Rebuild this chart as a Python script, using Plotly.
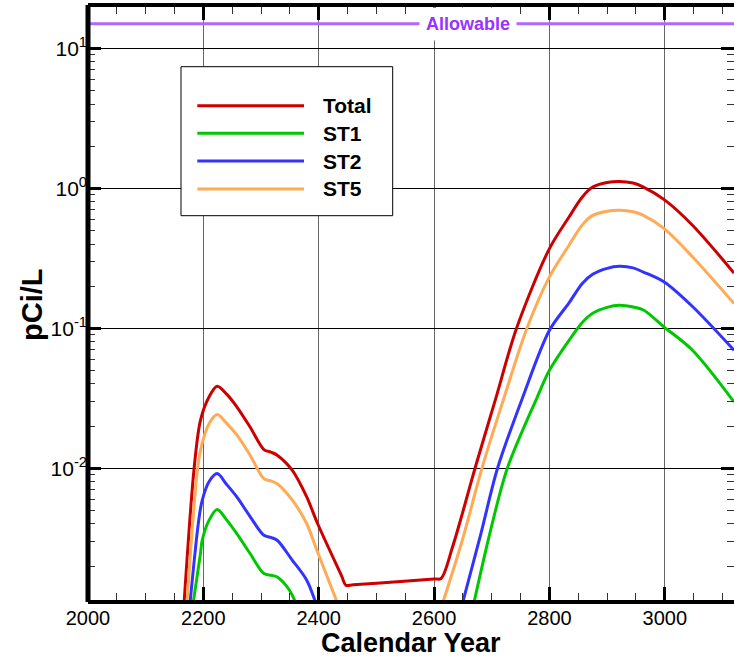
import plotly.graph_objects as go

# ---- data (pCi/L by calendar year) ----
total_year = [2166, 2184, 2195, 2210, 2224, 2240, 2258, 2281, 2305, 2318, 2328, 2354, 2379, 2398, 2440, 2447,
              2460, 2530, 2600, 2612, 2632, 2649, 2671, 2707, 2743, 2800, 2834, 2857, 2875, 2900, 2921,
              2945, 2963, 2999, 3048, 3120]
total_val = [0.0010, 0.0100, 0.0220, 0.0324, 0.0385, 0.0340, 0.0275, 0.0197, 0.0136, 0.0130, 0.0124, 0.0097,
             0.00627, 0.00403, 0.00169, 0.00146, 0.00147, 0.00154, 0.00162, 0.00163, 0.00274, 0.00474,
             0.0100, 0.0316, 0.100, 0.371, 0.624, 0.867, 1.02, 1.10, 1.12, 1.09, 1.02, 0.830, 0.545, 0.248]

st1_year = [2181, 2195, 2198, 2210, 2224, 2240, 2258, 2281, 2305, 2318, 2328, 2349, 2364, None,
            2667, 2697, 2727, 2778, 2800, 2834, 2857, 2875, 2900, 2921, 2945, 2963, 2999, 3048, 3120]
st1_val = [0.0010, 0.00246, 0.00306, 0.00426, 0.00507, 0.00430, 0.00341, 0.00246, 0.00177, 0.00172, 0.00167,
           0.00135, 0.0010, None,
           0.0010, 0.00347, 0.0100, 0.0316, 0.0501, 0.082, 0.110, 0.128, 0.141, 0.146, 0.142, 0.135, 0.102,
           0.0697, 0.0298]

st2_year = [2176, 2192, 2198, 2210, 2224, 2240, 2258, 2281, 2305, 2318, 2328, 2354, 2379, 2398, None,
            2647, 2681, 2710, 2753, 2800, 2834, 2857, 2875, 2900, 2921, 2945, 2963, 2999, 3048, 3120]
st2_val = [0.0010, 0.00426, 0.0059, 0.00804, 0.00916, 0.00770, 0.00624, 0.00452, 0.00332, 0.00320, 0.00306,
           0.00221, 0.00159, 0.0010, None,
           0.0010, 0.00339, 0.0100, 0.0316, 0.0968, 0.152, 0.209, 0.243, 0.268, 0.277, 0.270, 0.252, 0.214,
           0.143, 0.0697]

st5_year = [2171, 2190, 2198, 2210, 2224, 2240, 2258, 2281, 2305, 2318, 2328, 2354, 2379, 2398, 2436, None,
            2612, 2649, 2683, 2721, 2761, 2800, 2834, 2857, 2875, 2900, 2921, 2945, 2963, 2999, 3048, 3120]
st5_val = [0.0010, 0.0100, 0.0151, 0.0209, 0.0242, 0.0210, 0.0173, 0.0124, 0.00843, 0.00810, 0.00776, 0.00594,
           0.00403, 0.00252, 0.0010, None,
           0.0010, 0.00306, 0.0100, 0.0316, 0.100, 0.233, 0.392, 0.548, 0.640, 0.685, 0.697, 0.680, 0.641,
           0.515, 0.324, 0.150]

allowable = 15.0
x_range = [2000, 3120]
x_ticks = [2000, 2200, 2400, 2600, 2800, 3000]
y_ticks = [0.01, 0.1, 1, 10]
y_tick_text = ["10<sup>-2</sup>", "10<sup>-1</sup>", "10<sup>0</sup>", "10<sup>1</sup>"]
y_log_range = [-2.941, 1.295]

series = [
    ("Total", total_year, total_val, "#cc0000"),
    ("ST1", st1_year, st1_val, "#00c800"),
    ("ST2", st2_year, st2_val, "#3333ff"),
    ("ST5", st5_year, st5_val, "#ffaa55"),
]

FONT = "Liberation Sans, Arial, Helvetica, sans-serif"
W, H = 734, 660
ML, MR, MT, MB = 88, 0, 7, 60
PW, PH = W - ML - MR, H - MT - MB


def px_x(px):
    return (px - ML) / PW


def px_y(py):
    return (H - MB - py) / PH


fig = go.Figure()

fig.add_trace(go.Scatter(x=x_range, y=[allowable, allowable], mode="lines",
                         line=dict(color="#b066ff", width=3), showlegend=False,
                         hoverinfo="skip"))

for name, xs, ys, color in series:
    fig.add_trace(go.Scatter(x=xs, y=ys, mode="lines", name=name,
                             line=dict(color=color, width=3, shape="spline", smoothing=0.9),
                             connectgaps=False, showlegend=False))

# minor tick positions on the log axis (2..9 in every decade)
minor_y = [m * 10 ** e for e in range(-3, 2) for m in range(2, 10)]

fig.update_layout(
    width=W, height=H,
    margin=dict(l=ML, r=MR, t=MT, b=MB),
    plot_bgcolor="white", paper_bgcolor="white",
    font=dict(family=FONT, color="black", size=21),
    xaxis=dict(range=x_range, tickvals=x_ticks, ticks="inside", ticklen=13, tickwidth=3,
               tickcolor="black", showline=True, linewidth=4, linecolor="black",
               mirror="allticks", showgrid=True, gridcolor="#666666", gridwidth=1,
               zeroline=False, tickfont=dict(size=20), ticklabelstandoff=-3,
               minor=dict(dtick=50, tick0=2000, ticks="inside", ticklen=7, tickwidth=1,
                          tickcolor="#333333", showgrid=False)),
    yaxis=dict(type="log", range=y_log_range, tickvals=y_ticks, ticktext=y_tick_text,
               ticks="inside", ticklen=13, tickwidth=3, tickcolor="black",
               showline=False, mirror="allticks",
               showgrid=True, gridcolor="black", gridwidth=1, zeroline=False,
               tickfont=dict(size=21), ticklabelstandoff=0,
               minor=dict(tickvals=minor_y, ticks="inside", ticklen=7, tickwidth=1,
                          tickcolor="#333333", showgrid=False)),
)

annotations = [
    dict(text="<b>Allowable</b>", x=2659, y=1.1761, xref="x", yref="y",
         showarrow=False, font=dict(size=18, color="#9933ff", family=FONT),
         bgcolor="white", borderpad=6),
    dict(text="<b>Calendar Year</b>", x=0.5, y=px_y(643), xref="paper", yref="paper",
         showarrow=False, font=dict(size=27, family=FONT), yanchor="middle"),
    dict(text="<b>pCi/L</b>", x=px_x(32), y=px_y(305), xref="paper", yref="paper",
         showarrow=False, textangle=-90, font=dict(size=29, family=FONT),
         xanchor="center", yanchor="middle"),
]

shapes = [
    # thick left frame edge
    dict(type="line", xref="paper", yref="paper", x0=px_x(88), x1=px_x(88),
         y0=px_y(602), y1=px_y(5), line=dict(color="black", width=5), layer="above"),
    dict(type="rect", xref="paper", yref="paper", x0=px_x(181), x1=px_x(392.7),
         y0=px_y(215.7), y1=px_y(66.7), line=dict(color="black", width=1),
         fillcolor="white", layer="above"),
]

legend_rows = [105.7, 133.3, 161.0, 189.0]
for (name, _, _, color), row in zip(series, legend_rows):
    shapes.append(dict(type="line", xref="paper", yref="paper", x0=px_x(197.3), x1=px_x(304),
                       y0=px_y(row), y1=px_y(row), line=dict(color=color, width=3),
                       layer="above"))
    annotations.append(dict(text=f"<b>{name}</b>", x=px_x(320.7), y=px_y(row),
                            xref="paper", yref="paper", xanchor="left", yanchor="middle",
                            showarrow=False, font=dict(size=21, family=FONT)))

fig.update_layout(annotations=annotations, shapes=shapes)

fig.write_html("out.html")
